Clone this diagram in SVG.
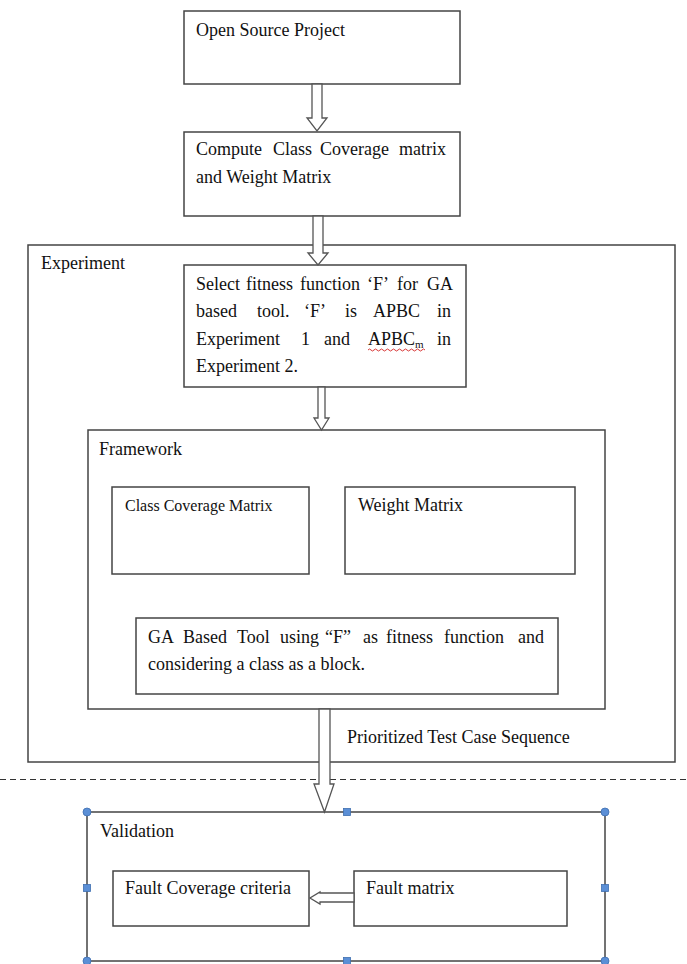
<svg xmlns="http://www.w3.org/2000/svg" width="687" height="964" viewBox="0 0 687 964">
  <style>
    .box { fill: #ffffff; stroke: #444444; stroke-width: 1.5; }
    .frame { fill: none; stroke: #444444; stroke-width: 1.5; }
    .t { font-family: "Liberation Serif", "Times New Roman", serif; font-size: 18px; fill: #111111; }
    .ts { font-family: "Liberation Serif", "Times New Roman", serif; font-size: 16px; fill: #111111; }
    .arrow { fill: #ffffff; stroke: #555555; stroke-width: 1.3; stroke-linejoin: miter; }
    .handle { fill: #5b8fd6; stroke: #3f6fb0; stroke-width: 0.8; }
  </style>

  <rect width="687" height="964" fill="#ffffff"/>

  <!-- containers -->
  <g id="experiment">
    <rect class="frame" x="28" y="245" width="647" height="517"/>
    <text class="t" x="41" y="269">Experiment</text>
  </g>

  <g id="framework">
    <rect class="frame" x="88" y="430" width="517" height="279"/>
    <text class="t" x="99" y="455">Framework</text>
  </g>

  <!-- separator between experiment and validation -->
  <line x1="0" y1="779.5" x2="687" y2="779.5" stroke="#333333" stroke-width="1" stroke-dasharray="6,4"/>

  <g id="validation">
    <rect class="frame" x="87" y="812" width="518" height="149"/>
    <text class="t" x="100" y="837">Validation</text>
  </g>

  <!-- process boxes -->
  <g id="open-source-project">
    <rect class="box" x="184" y="11" width="276" height="73"/>
    <text class="t" x="196" y="36">Open Source Project</text>
  </g>

  <g id="compute-matrices">
    <rect class="box" x="184" y="132" width="276" height="84"/>
    <text class="t" y="155"><tspan x="196">Compute</tspan><tspan x="273">Class</tspan><tspan x="320">Coverage</tspan><tspan x="399">matrix</tspan></text>
    <text class="t" x="196" y="183">and Weight Matrix</text>
  </g>

  <g id="select-fitness">
    <rect class="box" x="184" y="265" width="282" height="122"/>
    <text class="t" y="290"><tspan x="196">Select</tspan><tspan x="246">fitness</tspan><tspan x="300">function</tspan><tspan x="367">‘F’</tspan><tspan x="397">for</tspan><tspan x="427">GA</tspan></text>
    <text class="t" y="317"><tspan x="196">based</tspan><tspan x="257">tool.</tspan><tspan x="304">‘F’</tspan><tspan x="345">is</tspan><tspan x="373">APBC</tspan><tspan x="437">in</tspan></text>
    <text class="t" y="345"><tspan x="196">Experiment</tspan><tspan x="301">1</tspan><tspan x="324">and</tspan><tspan x="368">APBC</tspan><tspan font-size="11" dy="3">m</tspan><tspan x="437" dy="-3">in</tspan></text>
    <text class="t" x="196" y="372">Experiment 2.</text>
    <path d="M368 350 q1.5 -2 3 0 t3 0 t3 0 t3 0 t3 0 t3 0 t3 0 t3 0 t3 0 t3 0 t3 0 t3 0 t3 0 t3 0 t3 0 t3 0 t3 0 t3 0 t3 0" fill="none" stroke="#d42020" stroke-width="0.9"/>
  </g>

  <g id="class-coverage-matrix">
    <rect class="box" x="112" y="487" width="197" height="87"/>
    <text class="ts" x="125" y="511">Class Coverage Matrix</text>
  </g>

  <g id="weight-matrix">
    <rect class="box" x="345" y="487" width="230" height="87"/>
    <text class="t" x="358" y="511">Weight Matrix</text>
  </g>

  <g id="ga-tool">
    <rect class="box" x="136" y="618" width="422" height="76"/>
    <text class="t" y="643"><tspan x="148">GA</tspan><tspan x="183">Based</tspan><tspan x="237">Tool</tspan><tspan x="280">using</tspan><tspan x="325">“F”</tspan><tspan x="363">as</tspan><tspan x="386">fitness</tspan><tspan x="444">function</tspan><tspan x="518">and</tspan></text>
    <text class="t" x="148" y="670">considering a class as a block.</text>
  </g>

  <g id="fault-coverage-criteria">
    <rect class="box" x="113" y="871" width="196" height="55"/>
    <text class="t" x="125" y="894">Fault Coverage criteria</text>
  </g>

  <g id="fault-matrix">
    <rect class="box" x="354" y="871" width="213" height="55"/>
    <text class="t" x="366" y="894">Fault matrix</text>
  </g>

  <!-- block arrows -->
  <g id="connectors">
    <polygon class="arrow" points="312,84 322,84 322,118 327,118 317,131 307,118 312,118"/>
    <polygon class="arrow" points="313,216 323,216 323,253 328,253 318,265 308,253 313,253"/>
    <polygon class="arrow" points="318,387 325,387 325,418 329,418 321.5,430 314,418 318,418"/>
    <polygon class="arrow" points="319,709 330,709 330,784 334,784 324.5,812 314,784 319,784"/>
    <polygon class="arrow" points="354,893 320,893 320,892 310,898 320,904 320,902 354,902"/>
    <text class="t" x="347" y="743">Prioritized Test Case Sequence</text>
  </g>

  <!-- selection handles on the validation frame -->
  <g id="validation-handles">
    <circle class="handle" cx="87" cy="812" r="4"/>
    <circle class="handle" cx="605" cy="812" r="4"/>
    <circle class="handle" cx="87" cy="961" r="4"/>
    <circle class="handle" cx="605" cy="961" r="4"/>
    <rect class="handle" x="343.5" y="808.5" width="7" height="7"/>
    <rect class="handle" x="343.5" y="957.5" width="7" height="7"/>
    <rect class="handle" x="83.5" y="884.5" width="7" height="7"/>
    <rect class="handle" x="601.5" y="884.5" width="7" height="7"/>
  </g>
</svg>
